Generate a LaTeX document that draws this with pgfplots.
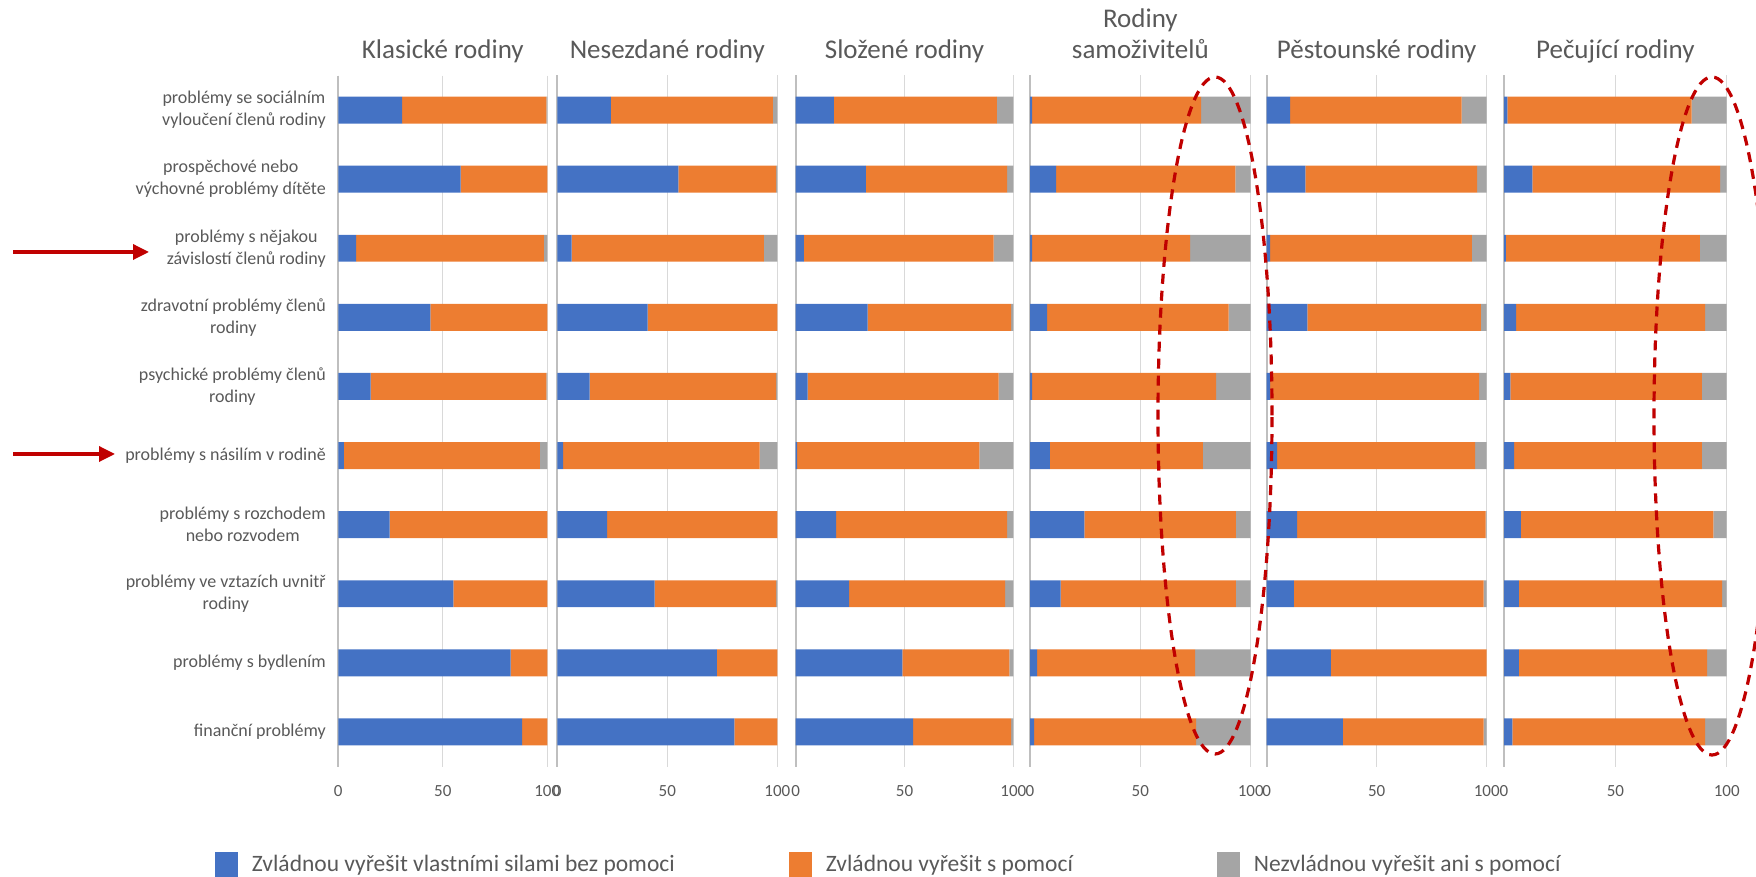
\documentclass[border=0pt]{standalone}
\usepackage{fontspec}
\setmainfont{Carlito}
\usepackage{pgfplots}
\pgfplotsset{compat=1.18}
\usepackage{pgfplotstable}
\usetikzlibrary{arrows.meta}

\definecolor{cBlue}{HTML}{4472C4}
\definecolor{cOrange}{HTML}{ED7D31}
\definecolor{cGray}{HTML}{A5A5A5}
\definecolor{txt}{HTML}{595959}
\definecolor{gridc}{HTML}{D9D9D9}
\definecolor{axisc}{HTML}{BFBFBF}
\definecolor{annot}{HTML}{C00000}

% r = row (1 = top), a = bez pomoci, b = s pomoci, c = ani s pomoci
\pgfplotstableread{
r a b c
1 30.5 69.0 0.5
2 58.5 41.5 0
3 8.5 89.8 1.7
4 44.0 56.0 0
5 15.5 84.0 0.5
6 2.7 93.8 3.5
7 24.5 75.5 0
8 55.0 45.0 0
9 82.5 17.5 0
10 88.0 12.0 0
}\tKlas
\pgfplotstableread{
r a b c
1 24.3 73.7 2.0
2 55.0 44.5 0.5
3 6.5 87.4 6.1
4 41.0 59.0 0
5 14.7 84.8 0.5
6 2.6 89.4 8.0
7 22.6 77.4 0
8 44.2 55.3 0.5
9 72.5 27.5 0
10 80.5 19.5 0
}\tNesez
\pgfplotstableread{
r a b c
1 17.5 74.9 7.6
2 32.2 64.9 2.9
3 3.8 87.2 9.0
4 33.0 66.0 1.0
5 5.5 87.8 6.7
6 0.7 83.7 15.6
7 18.6 78.5 2.9
8 24.5 71.7 3.8
9 49.0 49.2 1.8
10 54.0 45.0 1.0
}\tSloz
\pgfplotstableread{
r a b c
1 1.0 76.5 22.5
2 11.8 81.2 7.0
3 0.9 71.7 27.4
4 7.8 82.2 10.0
5 0.9 83.4 15.7
6 9.0 69.3 21.7
7 24.6 68.7 6.7
8 13.9 79.4 6.7
9 3.2 71.6 25.2
10 1.9 73.4 24.7
}\tSamo
\pgfplotstableread{
r a b c
1 10.6 78.0 11.4
2 17.6 78.0 4.4
3 1.5 91.8 6.7
4 18.5 78.9 2.6
5 1.5 95.0 3.5
6 4.7 90.0 5.3
7 13.8 85.7 0.5
8 12.4 86.2 1.4
9 29.2 70.8 0
10 34.6 64.0 1.4
}\tPest
\pgfplotstableread{
r a b c
1 1.5 82.7 15.8
2 12.7 84.3 3.0
3 0.8 87.2 12.0
4 5.4 84.9 9.7
5 2.8 86.0 11.2
6 4.5 84.3 11.2
7 7.6 86.4 6.0
8 6.7 91.2 2.1
9 6.7 84.5 8.8
10 3.7 86.6 9.7
}\tPec

\pgfplotsset{
  panel/.style={
    scale only axis, width=#1, height=691bp,
    anchor=south west,
    xbar stacked, bar width=0.39,
    xmin=0, xmax=100, ymin=0.5, ymax=10.5, y dir=reverse,
    xtick={0,50,100}, ytick={1,...,10}, yticklabels={},
    major tick length=0pt,
    axis line style={draw=none},
    xmajorgrids, major grid style={draw=gridc, line width=1.3bp},
    extra x ticks={0}, extra x tick labels={},
    extra x tick style={major grid style={draw=axisc, line width=1.8bp}},
    /pgf/number format/assume math mode=true,
    ticklabel style={font=\fontsize{17bp}{20bp}\selectfont, text=txt},
    xticklabel style={yshift=-15bp},
    title style={at={(0.5,1)}, anchor=south, yshift=5.2bp, inner sep=0pt,
      text depth=6bp, align=center, font=\fontsize{27bp}{31bp}\selectfont, text=txt},
    every axis plot/.append style={draw=none},
    clip=false,
  }
}

\begin{document}
\begin{tikzpicture}
\useasboundingbox (0,0) rectangle (1756bp,877bp);

\begin{axis}[panel=209bp, at={(338.3bp,110.5bp)}, title={Klasické rodiny},
  yticklabels={{problémy se sociálním\\vyloučení členů rodiny},
    {prospěchové nebo\\výchovné problémy dítěte},
    {problémy s nějakou\\závislostí členů rodiny},
    {zdravotní problémy členů\\rodiny},
    {psychické problémy členů\\rodiny},
    {problémy s násilím v rodině},
    {problémy s rozchodem\\nebo rozvodem},
    {problémy ve vztazích uvnitř\\rodiny},
    {problémy s bydlením},
    {finanční problémy}},
  yticklabel style={align=center, font=\fontsize{18bp}{22bp}\selectfont, xshift=-9bp},
  legend columns=3,
  legend image code/.code={\fill[#1] (0bp,-12.5bp) rectangle (23bp,12.5bp);},
  legend style={at={(axis description cs:-0.5900,-0.1411)}, anchor=west,
    draw=none, fill=none, inner sep=0pt, outer sep=0pt,
    font=\fontsize{23.5bp}{28bp}\selectfont, text=txt,
    nodes={inner sep=0pt}, column sep=0pt,
    /tikz/every odd column/.append style={column sep=14bp}},
  legend cell align=left]
\addplot[fill=cBlue] table[x=a,y=r]{\tKlas};
\addlegendentry{\makebox[537bp][l]{Zvládnou vyřešit vlastními silami bez pomoci}}
\addplot[fill=cOrange] table[x=b,y=r]{\tKlas};
\addlegendentry{\makebox[391bp][l]{Zvládnou vyřešit s pomocí}}
\addplot[fill=cGray] table[x=c,y=r]{\tKlas};
\addlegendentry{Nezvládnou vyřešit ani s pomocí}
\end{axis}

\begin{axis}[panel=220bp, at={(557.3bp,110.5bp)}, title={Nesezdané rodiny}]
\addplot[fill=cBlue] table[x=a,y=r]{\tNesez};
\addplot[fill=cOrange] table[x=b,y=r]{\tNesez};
\addplot[fill=cGray] table[x=c,y=r]{\tNesez};
\end{axis}

\begin{axis}[panel=217.6bp, at={(795.7bp,110.5bp)}, title={Složené rodiny}]
\addplot[fill=cBlue] table[x=a,y=r]{\tSloz};
\addplot[fill=cOrange] table[x=b,y=r]{\tSloz};
\addplot[fill=cGray] table[x=c,y=r]{\tSloz};
\end{axis}

\begin{axis}[panel=220.7bp, at={(1030bp,110.5bp)}, title={Rodiny\\samoživitelů}]
\addplot[fill=cBlue] table[x=a,y=r]{\tSamo};
\addplot[fill=cOrange] table[x=b,y=r]{\tSamo};
\addplot[fill=cGray] table[x=c,y=r]{\tSamo};
\end{axis}

\begin{axis}[panel=220bp, at={(1266.7bp,110.5bp)}, title={Pěstounské rodiny}]
\addplot[fill=cBlue] table[x=a,y=r]{\tPest};
\addplot[fill=cOrange] table[x=b,y=r]{\tPest};
\addplot[fill=cGray] table[x=c,y=r]{\tPest};
\end{axis}

\begin{axis}[panel=222.7bp, at={(1504bp,110.5bp)}, title={Pečující rodiny}]
\addplot[fill=cBlue] table[x=a,y=r]{\tPec};
\addplot[fill=cOrange] table[x=b,y=r]{\tPec};
\addplot[fill=cGray] table[x=c,y=r]{\tPec};
\end{axis}

% annotations
\draw[annot, line width=3.4bp, -{Triangle[length=16bp,width=15bp]}] (13bp,625bp) -- (149bp,625bp);
\draw[annot, line width=3.4bp, -{Triangle[length=16bp,width=15bp]}] (13bp,423bp) -- (115bp,423bp);
\draw[annot, line width=3.2bp, dash pattern=on 10bp off 7bp] (1215bp,461.5bp) ellipse [x radius=57bp, y radius=338.5bp];
\draw[annot, line width=3.2bp, dash pattern=on 10bp off 7bp] (1712bp,461bp) ellipse [x radius=58bp, y radius=339bp];
\end{tikzpicture}
\end{document}
